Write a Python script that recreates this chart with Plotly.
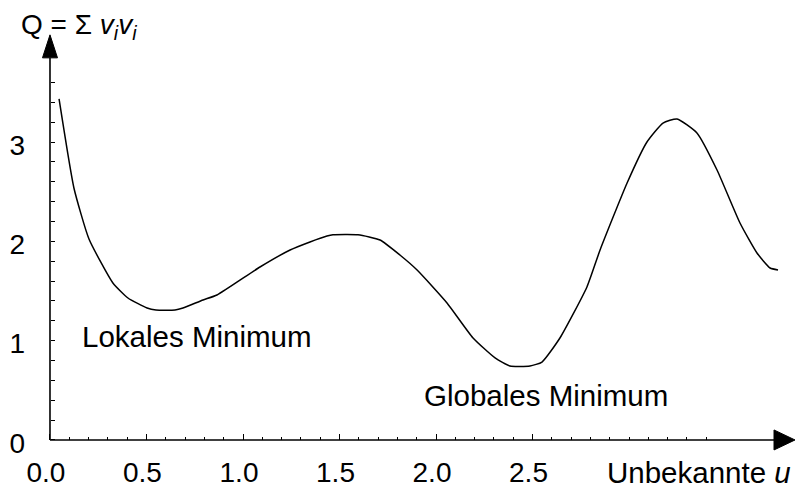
import plotly.graph_objects as go

# Sum of squared residuals Q over the unknown u
u_values = [0.047, 0.124, 0.202, 0.326, 0.404, 0.503, 0.549, 0.648, 0.689, 0.793,
            0.865, 1.088, 1.244, 1.347, 1.435, 1.466, 1.596, 1.710, 1.813, 1.902,
            2.057, 2.192, 2.306, 2.383, 2.487, 2.549, 2.642, 2.782, 2.850, 2.990,
            3.093, 3.176, 3.249, 3.352, 3.456, 3.575, 3.663, 3.731, 3.772]
q_values = [3.434, 2.538, 2.024, 1.581, 1.430, 1.329, 1.309, 1.309, 1.329, 1.410,
            1.460, 1.742, 1.913, 1.994, 2.054, 2.067, 2.067, 2.014, 1.863, 1.712,
            1.380, 1.027, 0.826, 0.745, 0.745, 0.785, 1.027, 1.541, 1.913, 2.588,
            3.001, 3.192, 3.233, 3.092, 2.719, 2.185, 1.883, 1.732, 1.712]

x_tick_vals = [0.0, 0.5, 1.0, 1.5, 2.0, 2.5, 3.0]
x_tick_text = ["0.0", "0.5", "1.0", "1.5", "2.0", "2.5", ""]
x_minor_vals = [round(0.1 * k, 1) for k in range(0, 35)]
y_tick_vals = [0, 1, 2, 3]
y_tick_text = ["0", "1", "2", "3"]
y_minor_vals = [round(0.2 * k, 1) for k in range(0, 19)]

FONT = "Liberation Sans, Arial, sans-serif"
W, H = 795, 491
X_RANGE = [-0.259, 3.86]
Y_RANGE = [-0.514, 4.431]

# paper position of the origin (where the axes cross)
ox = (0 - X_RANGE[0]) / (X_RANGE[1] - X_RANGE[0])
oy = (0 - Y_RANGE[0]) / (Y_RANGE[1] - Y_RANGE[0])

# data units per pixel, for sizing the arrowheads
ux = (X_RANGE[1] - X_RANGE[0]) / W
uy = (Y_RANGE[1] - Y_RANGE[0]) / H

x_arrow_tip = X_RANGE[1]
x_arrow_base = x_arrow_tip - 21 * ux
y_arrow_tip = 4.08
y_arrow_base = y_arrow_tip - 23 * uy

fig = go.Figure()
fig.add_trace(go.Scatter(
    x=u_values, y=q_values, mode="lines",
    line=dict(color="black", width=1.5, shape="spline", smoothing=0.5),
    showlegend=False, hoverinfo="skip",
))

line_style = dict(color="black", width=1.6)
shapes = [
    dict(type="line", xref="x", yref="y", x0=0, y0=0, x1=x_arrow_base, y1=0, line=line_style),
    dict(type="line", xref="x", yref="y", x0=0, y0=0, x1=0, y1=y_arrow_base, line=line_style),
    dict(type="path", xref="x", yref="y",
         path=f"M {x_arrow_base},{10 * uy} L {x_arrow_tip},0 L {x_arrow_base},{-10 * uy} Z",
         fillcolor="black", line=dict(color="black", width=1)),
    dict(type="path", xref="x", yref="y",
         path=f"M {-7.5 * ux},{y_arrow_base} L 0,{y_arrow_tip} L {7.5 * ux},{y_arrow_base} Z",
         fillcolor="black", line=dict(color="black", width=1)),
]

label_font = dict(family=FONT, size=29.5, color="black")
annotations = [
    dict(text="Lokales Minimum", x=0.155, y=1.04, xref="x", yref="y",
         xanchor="left", yanchor="middle", showarrow=False, font=label_font),
    dict(text="Globales Minimum", x=1.927, y=0.45, xref="x", yref="y",
         xanchor="left", yanchor="middle", showarrow=False, font=label_font),
    dict(text="Unbekannte <i>u</i>", x=0.997, y=0.0, xref="paper", yref="paper",
         xanchor="right", yanchor="bottom", showarrow=False, font=label_font),
    dict(text="Q = Σ <i>v<sub>i</sub>v<sub>i</sub></i>", x=0.024, y=0.985, xref="paper", yref="paper",
         xanchor="left", yanchor="top", showarrow=False,
         font=dict(family=FONT, size=28, color="black")),
]

fig.update_layout(
    width=W, height=H,
    margin=dict(l=0, r=0, t=0, b=0),
    paper_bgcolor="white", plot_bgcolor="white",
    shapes=shapes, annotations=annotations,
    xaxis=dict(
        range=X_RANGE, domain=[0, 1], anchor="free", position=oy,
        showgrid=False, zeroline=False, showline=False,
        tickmode="array", tickvals=x_tick_vals, ticktext=x_tick_text,
        ticks="inside", ticklen=6, tickwidth=1, tickcolor="black",
        ticklabelstandoff=13, ticklabelshift=-4,
        tickfont=dict(family=FONT, size=28, color="black"),
        minor=dict(tickmode="array", tickvals=x_minor_vals, ticks="inside",
                   ticklen=3, tickwidth=1, tickcolor="black", showgrid=False),
    ),
    yaxis=dict(
        range=Y_RANGE, domain=[0, 1], anchor="free", position=ox,
        showgrid=False, zeroline=False, showline=False,
        tickmode="array", tickvals=y_tick_vals, ticktext=y_tick_text,
        ticks="inside", ticklen=4, tickwidth=1, tickcolor="black",
        ticklabelstandoff=25, ticklabelshift=3,
        tickfont=dict(family=FONT, size=28, color="black"),
        minor=dict(tickmode="array", tickvals=y_minor_vals, ticks="inside",
                   ticklen=4, tickwidth=1, tickcolor="black", showgrid=False),
    ),
)

fig.write_html("out.html")
